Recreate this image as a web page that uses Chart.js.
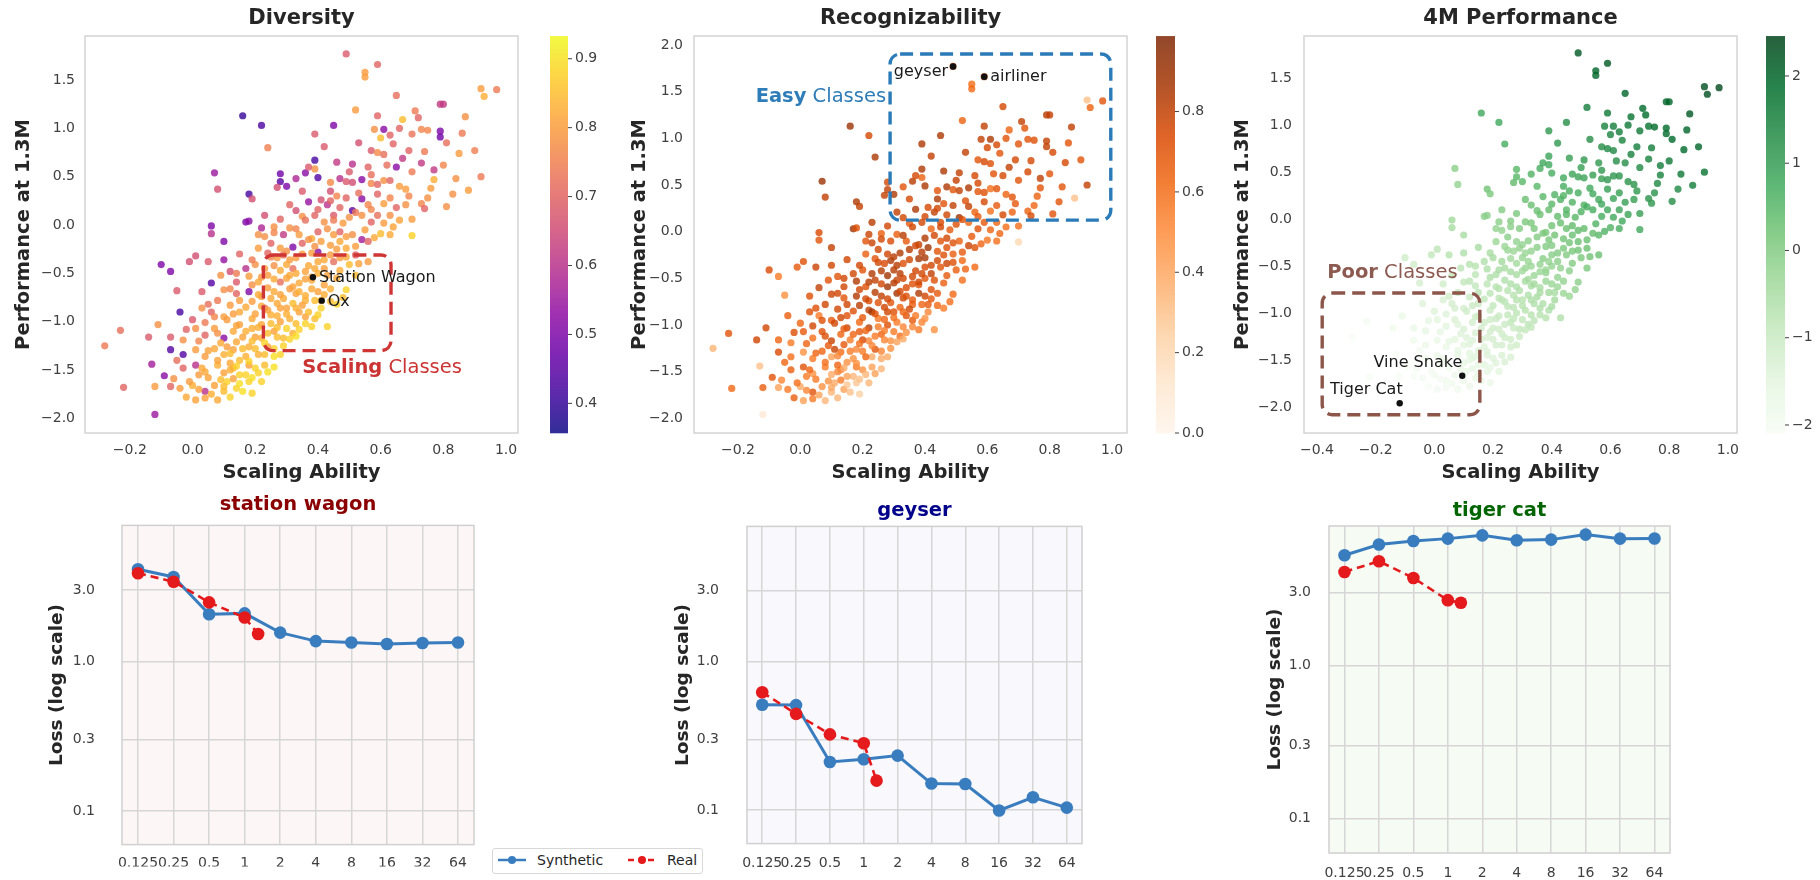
<!DOCTYPE html>
<html>
<head>
<meta charset="utf-8">
<script src="https://cdn.jsdelivr.net/npm/chart.js@4.4.1/dist/chart.umd.min.js"></script>
<style>
  body { margin: 0; background: #fff; width: 1820px; height: 880px; overflow: hidden; position: relative; font-family: "DejaVu Sans", sans-serif; }
  canvas { position: absolute; }
  #legend { position: absolute; left: 492px; top: 848px; width: 209px; height: 24px; border: 1px solid #d8d8d8; border-radius: 3px; background: #fff; font-size: 14px; color: #262626; }
  #legend span { position: absolute; top: 3px; }
  #legend svg { position: absolute; top: 0; left: 0; }
</style>
</head>
<body>
<canvas id="div" width="600" height="490" style="left:0;top:0"></canvas>
<canvas id="rec" width="610" height="490" style="left:600px;top:0"></canvas>
<canvas id="p4m" width="620" height="490" style="left:1200px;top:0"></canvas>
<canvas id="wagon" width="490" height="390" style="left:0;top:490px"></canvas>
<canvas id="geyser" width="500" height="390" style="left:600px;top:490px"></canvas>
<canvas id="tiger" width="620" height="390" style="left:1200px;top:490px"></canvas>
<div id="legend">
  <svg width="209" height="24">
    <line x1="5" y1="11" x2="33" y2="11" stroke="#3a7dbf" stroke-width="2.5"/>
    <circle cx="19" cy="11" r="4" fill="#3a7dbf"/>
    <line x1="135" y1="11" x2="162" y2="11" stroke="#e41a1c" stroke-width="2.5" stroke-dasharray="6,4"/>
    <circle cx="149" cy="11" r="4" fill="#e41a1c"/>
  </svg>
  <span style="left:44px">Synthetic</span>
  <span style="left:174px">Real</span>
</div>
<script>
// one entry per class: scaling ability (x) and performance at 1.3M (y)
const scaleAbility = [
  0.49, 0.59, 0.55, 0.55, 0.65, 0.92, 0.97, 0.93, 0.79, 0.80,
  0.52, 0.16, 0.22, 0.45, 0.59, 0.67, 0.71, 0.87, 0.72, 0.61,
  0.58, 0.66, 0.70, 0.73, 0.75, 0.79, 0.79, 0.39, 0.60, 0.24,
  0.42, 0.57, 0.59, 0.64, 0.69, 0.85, 0.90, 0.61, 0.67, 0.73,
  0.39, 0.51, 0.65, 0.77, 0.92, 0.07, 0.08, 0.28, 0.28, 0.33,
  0.36, 0.39, 0.40, 0.37, 0.44, 0.47, 0.49, 0.51, 0.54, 0.57,
  0.59, 0.61, 0.63, 0.66, 0.68, 0.77, 0.27, 0.30, 0.35, 0.18,
  0.19, 0.83, 0.88, 0.73, 0.31, 0.37, 0.41, 0.43, 0.46, 0.49,
  0.51, 0.54, 0.56, 0.59, 0.61, 0.65, 0.68, 0.74, 0.81, 0.17,
  0.18, 0.22, 0.26, 0.06, 0.06, 0.10, 0.35, 0.39, 0.42, 0.45,
  0.48, 0.50, 0.54, 0.57, 0.59, 0.61, 0.66, 0.60, 0.63, 0.70,
  0.21, 0.23, 0.29, 0.31, 0.34, 0.40, 0.45, 0.47, 0.51, 0.54,
  0.56, 0.32, 0.21, 0.24, 0.28, 0.35, 0.40, 0.44, 0.49, 0.52,
  -0.10, -0.07, -0.01, 0.01, 0.05, 0.10, 0.12, 0.17, 0.20, 0.23,
  0.27, 0.30, 0.33, 0.38, 0.40, 0.45, 0.47, 0.50, 0.56, 0.06,
  0.09, 0.14, 0.18, 0.21, 0.24, 0.28, 0.31, 0.34, 0.38, 0.46,
  0.49, -0.05, 0.03, 0.10, 0.14, 0.18, 0.22, 0.26, 0.29, 0.33,
  0.36, 0.40, 0.44, -0.04, -0.11, -0.23, 0.00, 0.03, 0.06, 0.10,
  0.12, 0.15, 0.19, 0.22, 0.25, 0.28, 0.31, 0.34, 0.39, 0.43,
  0.38, -0.28, -0.14, -0.07, -0.03, 0.01, 0.04, 0.07, 0.10, 0.13,
  0.16, 0.19, 0.22, 0.26, 0.29, 0.32, -0.07, -0.03, 0.01, 0.04,
  0.07, 0.10, 0.13, 0.17, 0.20, 0.23, 0.26, -0.13, -0.09, -0.06,
  -0.03, 0.01, 0.04, 0.08, 0.10, 0.13, 0.17, 0.20, 0.23, -0.22,
  -0.12, -0.07, -0.04, 0.00, 0.04, 0.07, 0.10, 0.14, 0.18, -0.02,
  0.01, 0.04, 0.08, -0.12, 0.11, 0.13, 0.15, 0.19, 0.12, 0.15,
  0.18, 0.21, 0.24, 0.21, 0.24, 0.28, 0.11, 0.14, 0.18, 0.20,
  0.27, 0.30, 0.15, 0.22, 0.25, 0.28, 0.33, 0.36, 0.23, 0.27,
  0.30, 0.32, 0.35, 0.41, 0.19, 0.31, 0.34, 0.38, 0.42, 0.28,
  0.32, 0.36, 0.42, 0.44, 0.29, 0.41, 0.38, 0.47, 0.25, 0.40,
  0.38, 0.41, 0.10,
  0.06, 0.12, 0.16, 0.02, 0.09, 0.05, 0.15, 0.19, 0.22, -0.01, 0.03, 0.12, 0.18, 0.26, 0.08, -0.05, 0.14, 0.02,
  0.05, 0.09, 0.12, 0.16, 0.19, 0.23, 0.26, 0.29, 0.31, 0.17, 0.24, 0.08, 0.02, -0.02, 0.04, 0.14, 0.27, 0.34, 0.21, 0.11, 0.33, 0.36,
  0.07, 0.13, 0.17, 0.20, 0.24, 0.27, 0.30, 0.33, 0.37, 0.40, 0.15, 0.21, 0.25, 0.28, 0.36, 0.39, 0.42, 0.46, 0.08, 0.12, 0.05, 0.32, 0.44, 0.48, 0.24, 0.19,
  0.14, 0.22, 0.26, 0.30, 0.33, 0.36, 0.39, 0.43, 0.47, 0.52, 0.53, 0.26, 0.19, 0.25, 0.31, 0.35, 0.42, 0.49, 0.37, 0.15, 0.30, 0.46, 0.52, 0.39,
  0.26, 0.33, 0.37, 0.43, 0.49, 0.55, 0.58, 0.64, 0.36, 0.45, 0.52, 0.47, 0.40, 0.57, 0.63, 0.70, 0.28, 0.33, 0.23, 0.44, 0.53, 0.63, 0.69, 0.75,
  0.50, 0.56, 0.62, 0.70, 0.74, 0.80, 0.84, 0.46, 0.53, 0.63, 0.81, 0.86, 0.44, 0.57, 0.76
];
const perf13M = [
  1.77, 1.66, 1.58, 1.53, 1.34, 1.41, 1.40, 1.33, 1.25, 1.25,
  1.19, 1.13, 1.03, 1.03, 1.13, 1.09, 1.18, 1.12, 1.11, 0.99,
  0.99, 1.00, 0.94, 0.99, 0.98, 0.97, 0.91, 0.94, 0.90, 0.80,
  0.81, 0.77, 0.75, 0.84, 0.77, 0.74, 0.77, 0.73, 0.69, 0.64,
  0.67, 0.63, 0.60, 0.57, 0.50, 0.54, 0.37, 0.53, 0.45, 0.48,
  0.54, 0.58, 0.49, 0.60, 0.44, 0.48, 0.45, 0.44, 0.47, 0.43,
  0.42, 0.46, 0.46, 0.40, 0.37, 0.47, 0.39, 0.40, 0.35, 0.32,
  0.27, 0.32, 0.36, 0.22, 0.21, 0.24, 0.26, 0.21, 0.30, 0.28,
  0.15, 0.27, 0.21, 0.32, 0.22, 0.18, 0.21, 0.17, 0.19, 0.03,
  0.04, -0.03, -0.02, -0.01, -0.09, -0.17, 0.09, 0.10, 0.03, 0.10,
  0.02, 0.08, 0.10, 0.03, 0.10, 0.02, 0.05, -0.09, -0.10, -0.11,
  -0.10, -0.12, -0.10, -0.03, -0.10, -0.07, -0.10, -0.07, -0.10, -0.15,
  -0.17, -0.23, -0.24, -0.29, -0.24, -0.19, -0.28, -0.21, -0.24, -0.31,
  -0.41, -0.48, -0.38, -0.32, -0.38, -0.36, -0.48, -0.45, -0.41, -0.45,
  -0.34, -0.41, -0.34, -0.29, -0.38, -0.38, -0.34, -0.41, -0.38, -0.60,
  -0.52, -0.59, -0.53, -0.59, -0.52, -0.59, -0.52, -0.60, -0.57, -0.55,
  -0.67, -0.68, -0.69, -0.67, -0.71, -0.69, -0.74, -0.69, -0.76, -0.71,
  -0.78, -0.69, -0.79, -0.90, -1.03, -1.09, -0.98, -0.86, -0.90, -0.95,
  -0.83, -0.90, -0.97, -0.84, -0.93, -0.86, -0.97, -0.90, -0.97, -1.05,
  -1.05, -1.25, -1.16, -1.16, -1.19, -1.07, -1.14, -1.07, -1.17, -1.10,
  -1.16, -1.07, -1.17, -1.10, -1.17, -1.12, -1.29, -1.34, -1.29, -1.36,
  -1.28, -1.34, -1.29, -1.36, -1.28, -1.34, -1.28, -1.44, -1.56, -1.59,
  -1.48, -1.45, -1.52, -1.45, -1.53, -1.48, -1.55, -1.48, -1.45, -1.68,
  -1.67, -1.67, -1.69, -1.66, -1.72, -1.66, -1.72, -1.69, -1.62, -1.78,
  -1.81, -1.79, -1.81, -1.96, -1.62, -1.59, -1.64, -1.74, -1.43, -1.40,
  -1.45, -1.53, -1.52, -1.34, -1.26, -1.34, -1.26, -1.21, -1.26, -1.16,
  -1.16, -1.07, -1.03, -1.03, -1.02, -1.00, -1.02, -0.95, -0.86, -0.81,
  -0.86, -0.81, -0.83, -0.86, -0.79, -0.66, -0.69, -0.66, -0.62, -0.47,
  -0.45, -0.48, -0.45, -0.31, -0.31, -0.17, -0.14, -0.17, -0.19, -0.50,
  -0.54, -0.78, -1.67,
  -1.75, -1.78, -1.72, -1.70, -1.60, -1.58, -1.55, -1.58, -1.62, -1.62, -1.48, -1.50, -1.41, -1.47, -1.40, -1.40, -1.46, -1.55,
  -1.30, -1.22, -1.33, -1.28, -1.20, -1.22, -1.36, -1.25, -1.18, -1.10, -1.12, -1.12, -1.20, -1.08, -1.01, -1.04, -1.06, -1.08, -1.06, -0.98, -1.15, -1.02,
  -0.95, -0.92, -0.85, -0.92, -0.88, -0.94, -0.92, -0.86, -0.90, -0.93, -0.78, -0.72, -0.76, -0.72, -0.73, -0.78, -0.72, -0.82, -0.78, -0.66, -0.82, -0.64, -0.66, -0.75, -0.65, -0.62,
  -0.50, -0.54, -0.56, -0.55, -0.50, -0.56, -0.45, -0.52, -0.47, -0.52, -0.40, -0.42, -0.36, -0.33, -0.36, -0.30, -0.36, -0.33, -0.42, -0.30, -0.27, -0.25, -0.22, -0.22,
  -0.08, -0.04, -0.15, -0.04, -0.12, -0.05, -0.13, -0.02, 0.05, 0.05, 0.13, 0.18, 0.16, 0.16, 0.10, 0.06, 0.06, 0.15, 0.10, 0.25, 0.33, 0.28, 0.30, 0.28,
  0.55, 0.60, 0.62, 0.55, 0.76, 0.62, 0.48, 0.65, 0.85, 0.93, 0.85, 0.95, 0.35, 0.52, 0.38
];
// colour values for the three top panels
const diversity = [
  0.68, 0.70, 0.80, 0.80, 0.72, 0.80, 0.74, 0.83, 0.62, 0.62,
  0.80, 0.40, 0.43, 0.50, 0.70, 0.85, 0.74, 0.78, 0.70, 0.52,
  0.78, 0.70, 0.73, 0.76, 0.76, 0.50, 0.48, 0.68, 0.85, 0.75,
  0.68, 0.68, 0.77, 0.70, 0.70, 0.80, 0.75, 0.72, 0.62, 0.62,
  0.42, 0.60, 0.52, 0.62, 0.74, 0.55, 0.66, 0.48, 0.45, 0.58,
  0.52, 0.78, 0.44, 0.68, 0.77, 0.60, 0.68, 0.66, 0.52, 0.76,
  0.70, 0.78, 0.70, 0.80, 0.80, 0.83, 0.66, 0.50, 0.68, 0.42,
  0.66, 0.78, 0.80, 0.76, 0.70, 0.54, 0.66, 0.60, 0.76, 0.70,
  0.45, 0.52, 0.76, 0.70, 0.80, 0.70, 0.78, 0.70, 0.78, 0.50,
  0.52, 0.58, 0.78, 0.50, 0.60, 0.50, 0.78, 0.70, 0.78, 0.68,
  0.80, 0.78, 0.78, 0.70, 0.72, 0.80, 0.81, 0.85, 0.82, 0.88,
  0.78, 0.78, 0.62, 0.78, 0.80, 0.70, 0.80, 0.70, 0.78, 0.56,
  0.70, 0.50, 0.80, 0.70, 0.80, 0.70, 0.52, 0.80, 0.82, 0.70,
  0.50, 0.50, 0.66, 0.66, 0.68, 0.54, 0.66, 0.60, 0.78, 0.80,
  0.80, 0.82, 0.80, 0.80, 0.82, 0.72, 0.80, 0.85, 0.80, 0.44,
  0.78, 0.68, 0.80, 0.82, 0.80, 0.72, 0.82, 0.82, 0.82, 0.82,
  0.88, 0.68, 0.68, 0.78, 0.70, 0.50, 0.80, 0.82, 0.82, 0.81,
  0.83, 0.81, 0.85, 0.42, 0.78, 0.72, 0.68, 0.78, 0.70, 0.80,
  0.80, 0.82, 0.82, 0.82, 0.83, 0.81, 0.83, 0.81, 0.85, 0.88,
  0.88, 0.74, 0.68, 0.68, 0.78, 0.78, 0.70, 0.80, 0.52, 0.82,
  0.81, 0.83, 0.83, 0.81, 0.85, 0.83, 0.44, 0.44, 0.80, 0.80,
  0.82, 0.83, 0.81, 0.83, 0.85, 0.85, 0.88, 0.56, 0.52, 0.78,
  0.70, 0.60, 0.82, 0.83, 0.81, 0.85, 0.88, 0.88, 0.85, 0.70,
  0.80, 0.70, 0.80, 0.83, 0.60, 0.81, 0.85, 0.88, 0.88, 0.82,
  0.81, 0.81, 0.82, 0.55, 0.88, 0.81, 0.90, 0.88, 0.82, 0.85,
  0.81, 0.88, 0.90, 0.83, 0.81, 0.88, 0.80, 0.82, 0.83, 0.81,
  0.85, 0.88, 0.81, 0.82, 0.85, 0.81, 0.85, 0.81, 0.72, 0.82,
  0.81, 0.85, 0.81, 0.88, 0.80, 0.80, 0.83, 0.82, 0.81, 0.82,
  0.72, 0.81, 0.80, 0.80, 0.72, 0.80, 0.82, 0.82, 0.70, 0.83,
  0.80, 0.82, 0.85,
  0.83, 0.88, 0.90, 0.81, 0.85, 0.81, 0.88, 0.90, 0.88, 0.80, 0.82, 0.83, 0.88, 0.90, 0.81, 0.72, 0.88, 0.80,
  0.81, 0.82, 0.85, 0.85, 0.85, 0.88, 0.90, 0.88, 0.88, 0.83, 0.85, 0.78, 0.76, 0.70, 0.74, 0.81, 0.85, 0.88, 0.83, 0.80, 0.90, 0.88,
  0.76, 0.80, 0.82, 0.81, 0.81, 0.83, 0.83, 0.83, 0.85, 0.88, 0.80, 0.82, 0.82, 0.81, 0.83, 0.85, 0.83, 0.88, 0.74, 0.76, 0.72, 0.81, 0.83, 0.85, 0.80, 0.78,
  0.74, 0.80, 0.82, 0.81, 0.82, 0.81, 0.82, 0.81, 0.83, 0.85, 0.81, 0.78, 0.74, 0.76, 0.80, 0.80, 0.82, 0.82, 0.82, 0.70, 0.78, 0.80, 0.80, 0.78,
  0.76, 0.76, 0.78, 0.78, 0.80, 0.80, 0.82, 0.81, 0.72, 0.74, 0.74, 0.70, 0.70, 0.76, 0.78, 0.80, 0.70, 0.66, 0.66, 0.70, 0.72, 0.76, 0.76, 0.78,
  0.68, 0.70, 0.72, 0.74, 0.74, 0.76, 0.78, 0.62, 0.66, 0.70, 0.72, 0.74, 0.66, 0.72, 0.80
];
const recognizability = [
  0.85, 0.80, 0.60, 0.62, 0.75, 0.30, 0.70, 0.65, 0.82, 0.80,
  0.65, 0.90, 0.75, 0.85, 0.80, 0.65, 0.80, 0.80, 0.70, 0.85,
  0.80, 0.70, 0.70, 0.70, 0.72, 0.80, 0.80, 0.85, 0.75, 0.85,
  0.80, 0.70, 0.75, 0.70, 0.75, 0.75, 0.70, 0.72, 0.80, 0.75,
  0.85, 0.80, 0.75, 0.80, 0.80, 0.90, 0.80, 0.75, 0.80, 0.70,
  0.82, 0.65, 0.85, 0.75, 0.70, 0.85, 0.70, 0.80, 0.85, 0.70,
  0.72, 0.60, 0.70, 0.65, 0.70, 0.70, 0.80, 0.85, 0.75, 0.85,
  0.80, 0.70, 0.30, 0.65, 0.80, 0.85, 0.75, 0.80, 0.70, 0.80,
  0.90, 0.80, 0.65, 0.75, 0.60, 0.75, 0.65, 0.75, 0.70, 0.90,
  0.72, 0.78, 0.66, 0.74, 0.70, 0.80, 0.68, 0.76, 0.64, 0.74,
  0.68, 0.72, 0.64, 0.72, 0.68, 0.64, 0.60, 0.58, 0.60, 0.20,
  0.70, 0.78, 0.74, 0.66, 0.68, 0.84, 0.70, 0.76, 0.66, 0.78,
  0.72, 0.84, 0.66, 0.70, 0.76, 0.82, 0.86, 0.70, 0.66, 0.62,
  0.74, 0.56, 0.68, 0.72, 0.78, 0.76, 0.70, 0.76, 0.70, 0.84,
  0.74, 0.82, 0.72, 0.86, 0.74, 0.70, 0.78, 0.66, 0.62, 0.80,
  0.70, 0.76, 0.84, 0.72, 0.80, 0.88, 0.78, 0.74, 0.70, 0.66,
  0.62, 0.48, 0.72, 0.78, 0.70, 0.84, 0.74, 0.80, 0.70, 0.76,
  0.66, 0.76, 0.62, 0.66, 0.76, 0.70, 0.64, 0.72, 0.56, 0.68,
  0.76, 0.70, 0.62, 0.80, 0.58, 0.76, 0.56, 0.70, 0.52, 0.48,
  0.56, 0.35, 0.76, 0.64, 0.56, 0.68, 0.60, 0.72, 0.78, 0.64,
  0.56, 0.68, 0.52, 0.64, 0.48, 0.60, 0.74, 0.60, 0.48, 0.56,
  0.64, 0.42, 0.60, 0.48, 0.56, 0.38, 0.52, 0.30, 0.70, 0.52,
  0.66, 0.70, 0.48, 0.56, 0.38, 0.52, 0.34, 0.48, 0.42, 0.62,
  0.66, 0.42, 0.56, 0.38, 0.70, 0.48, 0.34, 0.42, 0.28, 0.66,
  0.42, 0.56, 0.34, 0.10, 0.38, 0.56, 0.28, 0.24, 0.64, 0.48,
  0.56, 0.34, 0.42, 0.64, 0.70, 0.38, 0.78, 0.68, 0.52, 0.74,
  0.52, 0.56, 0.76, 0.82, 0.56, 0.72, 0.52, 0.68, 0.88, 0.76,
  0.72, 0.64, 0.76, 0.52, 0.82, 0.88, 0.72, 0.84, 0.72, 0.88,
  0.82, 0.76, 0.80, 0.76, 0.84, 0.88, 0.80, 0.72, 0.76, 0.70,
  0.76, 0.68, 0.40,
  0.42, 0.34, 0.30, 0.52, 0.48, 0.56, 0.42, 0.30, 0.34, 0.60, 0.64, 0.52, 0.48, 0.34, 0.60, 0.64, 0.38, 0.56,
  0.64, 0.68, 0.52, 0.56, 0.60, 0.52, 0.38, 0.48, 0.42, 0.64, 0.56, 0.72, 0.64, 0.72, 0.76, 0.68, 0.56, 0.48, 0.64, 0.76, 0.38, 0.52,
  0.72, 0.76, 0.72, 0.68, 0.72, 0.64, 0.60, 0.64, 0.56, 0.48, 0.76, 0.76, 0.72, 0.76, 0.68, 0.64, 0.68, 0.56, 0.76, 0.76, 0.72, 0.76, 0.68, 0.60, 0.82, 0.76,
  0.76, 0.82, 0.76, 0.82, 0.76, 0.72, 0.76, 0.72, 0.68, 0.60, 0.64, 0.82, 0.76, 0.76, 0.82, 0.76, 0.76, 0.72, 0.76, 0.76, 0.82, 0.72, 0.68, 0.82,
  0.76, 0.82, 0.76, 0.76, 0.72, 0.68, 0.64, 0.64, 0.76, 0.76, 0.72, 0.76, 0.76, 0.68, 0.64, 0.60, 0.76, 0.76, 0.82, 0.76, 0.72, 0.68, 0.68, 0.64,
  0.80, 0.75, 0.70, 0.70, 0.75, 0.70, 0.70, 0.85, 0.80, 0.75, 0.75, 0.70, 0.85, 0.75, 0.65
];
const perf4M = [
  2.2, 2.2, 2.0, 2.0, 2.0, 2.3, 2.4, 2.3, 2.0, 2.0,
  1.6, 0.8, 0.8, 1.3, 1.7, 1.8, 1.9, 2.2, 1.9, 1.6,
  1.5, 1.7, 1.7, 1.8, 1.9, 1.9, 1.9, 1.1, 1.5, 0.7,
  1.1, 1.3, 1.4, 1.5, 1.6, 1.9, 2.0, 1.4, 1.5, 1.5,
  0.9, 1.1, 1.3, 1.6, 1.8, -0.1, -0.2, 0.5, 0.5, 0.6,
  0.7, 0.8, 0.7, 0.8, 0.8, 0.9, 0.9, 0.9, 1.0, 1.0,
  1.1, 1.1, 1.2, 1.2, 1.2, 1.5, 0.4, 0.5, 0.5, 0.2,
  0.1, 1.4, 1.6, 1.2, 0.3, 0.5, 0.6, 0.6, 0.7, 0.7,
  0.6, 0.8, 0.8, 1.0, 0.9, 1.0, 1.0, 1.1, 1.3, -0.1,
  -0.1, -0.1, 0.0, -0.4, -0.5, -0.5, 0.3, 0.4, 0.4, 0.5,
  0.5, 0.6, 0.7, 0.7, 0.8, 0.8, 0.9, 0.6, 0.7, 0.8,
  -0.2, -0.2, 0.0, 0.1, 0.1, 0.2, 0.3, 0.4, 0.4, 0.4,
  0.5, -0.1, -0.3, -0.3, -0.2, 0.0, 0.0, 0.2, 0.3, 0.3,
  -1.1, -1.1, -0.9, -0.8, -0.7, -0.6, -0.7, -0.6, -0.5, -0.4,
  -0.3, -0.3, -0.2, 0.0, -0.1, 0.0, 0.1, 0.1, 0.3, -0.9,
  -0.8, -0.8, -0.6, -0.6, -0.5, -0.5, -0.3, -0.3, -0.2, -0.1,
  -0.1, -1.2, -1.1, -0.9, -0.9, -0.8, -0.7, -0.6, -0.6, -0.5,
  -0.5, -0.3, -0.3, -1.4, -1.7, -2.0, -1.4, -1.3, -1.2, -1.2,
  -1.0, -1.0, -1.0, -0.8, -0.8, -0.7, -0.7, -0.6, -0.6, -0.6,
  -0.7, -2.1, -1.9, -1.7, -1.6, -1.5, -1.5, -1.3, -1.3, -1.2,
  -1.2, -1.1, -1.1, -0.9, -0.9, -0.8, -1.9, -1.8, -1.7, -1.7,
  -1.5, -1.5, -1.4, -1.4, -1.2, -1.2, -1.1, -2.1, -2.1, -2.0,
  -1.9, -1.8, -1.8, -1.6, -1.6, -1.5, -1.5, -1.4, -1.3, -2.1,
  -2.1, -2.1, -2.0, -1.9, -1.9, -1.8, -1.8, -1.7, -1.6, -2.1,
  -2.0, -2.0, -1.9, -2.1, -1.7, -1.6, -1.6, -1.7, -1.5, -1.4,
  -1.4, -1.4, -1.3, -1.2, -1.1, -1.1, -1.4, -1.3, -1.3, -1.1,
  -1.0, -0.9, -1.1, -1.0, -0.9, -0.8, -0.7, -0.6, -0.8, -0.7,
  -0.7, -0.6, -0.5, -0.4, -0.8, -0.5, -0.4, -0.3, -0.2, -0.4,
  -0.3, -0.2, -0.1, 0.1, -0.2, 0.2, 0.1, 0.3, -0.1, -0.2,
  -0.3, -0.5, -1.8,
  -1.9, -1.8, -1.7, -2.0, -1.8, -1.9, -1.6, -1.6, -1.5, -2.0, -1.8, -1.6, -1.4, -1.3, -1.6, -2.0, -1.5, -1.9,
  -1.6, -1.4, -1.4, -1.3, -1.2, -1.1, -1.2, -1.0, -0.9, -1.1, -1.0, -1.4, -1.6, -1.6, -1.4, -1.1, -0.9, -0.8, -1.0, -1.1, -0.9, -0.7,
  -1.2, -1.0, -0.9, -0.9, -0.8, -0.8, -0.7, -0.6, -0.6, -0.5, -0.8, -0.7, -0.7, -0.6, -0.5, -0.4, -0.3, -0.3, -1.0, -0.8, -1.1, -0.4, -0.2, -0.2, -0.6, -0.6,
  -0.7, -0.5, -0.5, -0.4, -0.3, -0.3, -0.2, -0.2, 0.0, 0.1, 0.2, -0.4, -0.5, -0.3, -0.3, -0.1, 0.0, 0.2, -0.1, -0.5, -0.2, 0.2, 0.3, 0.1,
  -0.1, 0.1, 0.1, 0.3, 0.4, 0.6, 0.6, 0.8, 0.3, 0.5, 0.7, 0.6, 0.5, 0.8, 0.9, 1.0, 0.1, 0.3, 0.0, 0.6, 0.8, 1.0, 1.1, 1.2,
  1.0, 1.1, 1.3, 1.4, 1.6, 1.7, 1.7, 1.0, 1.3, 1.6, 1.9, 2.0, 0.7, 1.1, 1.4
];

// annotated classes
const namedClasses = ['Station Wagon', 'Ox', 'geyser', 'airliner', 'Vine Snake', 'Tiger Cat'];
const namedX = [0.384, 0.412, 0.49, 0.59, 0.095, -0.118];
const namedY = [-0.541, -0.783, 1.77, 1.66, -1.667, -1.961];

// tick labels
const xTicksA = [-0.2, 0, 0.2, 0.4, 0.6, 0.8, 1.0];
const xTicksB = [-0.4, -0.2, 0, 0.2, 0.4, 0.6, 0.8, 1.0];
const yTicksA = [-2, -1.5, -1, -0.5, 0, 0.5, 1, 1.5];
const yTicksB = [-2, -1.5, -1, -0.5, 0, 0.5, 1, 1.5, 2];
const divTicks = [0.4, 0.5, 0.6, 0.7, 0.8, 0.9];
const recTicks = [0, 0.2, 0.4, 0.6, 0.8];
const p4Ticks = [-2, -1, 0, 1, 2];
const sizeTicks = [0.125, 0.25, 0.5, 1, 2, 4, 8, 16, 32, 64];
const lossTicks = [0.1, 0.3, 1, 3];

// loss curves (dataset size in millions, loss on log scale)
const realSizes = [0.125, 0.25, 0.5, 1, 1.3];
const wagonSynth = [4.15, 3.68, 2.07, 2.10, 1.56, 1.37, 1.34, 1.31, 1.33, 1.34];
const wagonReal = [3.90, 3.42, 2.49, 1.97, 1.53];
const geyserSynth = [0.513, 0.51, 0.211, 0.220, 0.233, 0.151, 0.150, 0.0995, 0.122, 0.104];
const geyserReal = [0.622, 0.445, 0.324, 0.282, 0.158];
const tigerSynth = [5.25, 6.17, 6.50, 6.74, 7.08, 6.57, 6.64, 7.16, 6.74, 6.76];
const tigerReal = [4.08, 4.80, 3.73, 2.67, 2.57];

[diversity, recognizability, perf4M, perf13M].forEach(a => {
  if (a.length !== scaleAbility.length) throw new Error('length mismatch ' + a.length + ' vs ' + scaleAbility.length);
});

Chart.defaults.font.family = '"DejaVu Sans", sans-serif';
Chart.defaults.color = '#404040';
Chart.defaults.animation = false;

const CMAPS = {
  plasma: ['#0d0887', '#41049d', '#6a00a8', '#8f0da4', '#b12a90', '#cc4778', '#e16462', '#f2844b', '#fca636', '#fcce25', '#f0f921'],
  oranges: ['#fff5eb', '#fee6ce', '#fdd0a2', '#fdae6b', '#fd8d3c', '#f16913', '#d94801', '#a63603', '#7f2704'],
  greens: ['#f7fcf5', '#e5f5e0', '#c7e9c0', '#a1d99b', '#74c476', '#41ab5d', '#238b45', '#006d2c', '#00441b']
};
const ALPHA = 0.8;
function hexRgb(h) { return [1, 3, 5].map(i => parseInt(h.slice(i, i + 2), 16)); }
function cmapColor(name, t) {
  const s = CMAPS[name];
  t = Math.max(0, Math.min(1, t));
  const p = t * (s.length - 1);
  const i = Math.min(Math.floor(p), s.length - 2);
  const f = p - i;
  const a = hexRgb(s[i]), b = hexRgb(s[i + 1]);
  const c = a.map((v, k) => Math.round(v + (b[k] - v) * f));
  return `rgba(${c[0]},${c[1]},${c[2]},${ALPHA})`;
}

const fmt1 = v => (v < 0 ? '\u2212' : '') + Math.abs(v).toFixed(1);
const fmt0 = v => (v < 0 ? '\u2212' : '') + Math.abs(v).toFixed(0);

function drawRich(ctx, parts, x, y, align, size, color) {
  ctx.textBaseline = 'middle';
  ctx.textAlign = 'left';
  ctx.fillStyle = color;
  const fonts = parts.map(p => (p.bold ? 'bold ' : '') + size + 'px "DejaVu Sans"');
  const widths = parts.map((p, i) => { ctx.font = fonts[i]; return ctx.measureText(p.t).width; });
  const total = widths.reduce((a, b) => a + b, 0);
  let cx = align === 'right' ? x - total : x;
  parts.forEach((p, i) => { ctx.font = fonts[i]; ctx.fillText(p.t, cx, y); cx += widths[i]; });
}

function deco(cfg) {
  return {
    id: 'deco',
    beforeDraw(chart) {
      if (!cfg.bg) return;
      const a = chart.chartArea, ctx = chart.ctx;
      ctx.save();
      ctx.fillStyle = cfg.bg;
      ctx.fillRect(a.left, a.top, a.right - a.left, a.bottom - a.top);
      ctx.restore();
    },
    afterDraw(chart) {
      const ctx = chart.ctx, a = chart.chartArea, xs = chart.scales.x, ys = chart.scales.y;
      ctx.save();
      ctx.strokeStyle = cfg.frame;
      ctx.lineWidth = 1.5;
      ctx.strokeRect(a.left, a.top, a.right - a.left, a.bottom - a.top);

      ctx.font = `bold ${cfg.titleSize}px "DejaVu Sans"`;
      ctx.fillStyle = cfg.titleColor || '#262626';
      ctx.textAlign = 'center';
      ctx.textBaseline = 'middle';
      ctx.fillText(cfg.title, (a.left + a.right) / 2, cfg.titleY);

      (cfg.boxes || []).forEach(b => {
        const x0 = xs.getPixelForValue(b.x0), x1 = xs.getPixelForValue(b.x1);
        const y0 = ys.getPixelForValue(b.y0), y1 = ys.getPixelForValue(b.y1);
        ctx.beginPath();
        ctx.setLineDash([13, 7]);
        ctx.lineWidth = 3.4;
        ctx.strokeStyle = b.color;
        ctx.roundRect(Math.min(x0, x1), Math.min(y0, y1), Math.abs(x1 - x0), Math.abs(y1 - y0), 10);
        ctx.stroke();
        ctx.setLineDash([]);
      });

      (cfg.groups || []).forEach(g => {
        drawRich(ctx, g.parts, xs.getPixelForValue(g.x) + (g.dx || 0), ys.getPixelForValue(g.y), g.align, 19.5, g.color);
      });

      (cfg.names || []).forEach(n => {
        drawRich(ctx, [{ t: namedClasses[n.i] }], xs.getPixelForValue(namedX[n.i]) + n.dx,
          ys.getPixelForValue(namedY[n.i]) + n.dy, n.align, 16, '#1a1a1a');
      });

      if (cfg.cbar) {
        const c = cfg.cbar, top = a.top, bot = a.bottom, h = bot - top;
        for (let i = 0; i < h; i++) {
          ctx.fillStyle = cmapColor(c.cmap, 1 - (i + 0.5) / h);
          ctx.fillRect(c.x, top + i, c.w, 1.3);
        }
        ctx.fillStyle = '#404040';
        ctx.strokeStyle = '#404040';
        ctx.lineWidth = 1;
        ctx.font = '14px "DejaVu Sans"';
        ctx.textAlign = 'left';
        ctx.textBaseline = 'middle';
        c.ticks.forEach(v => {
          const y = bot - (v - c.min) / (c.max - c.min) * h;
          ctx.beginPath();
          ctx.moveTo(c.x + c.w, y);
          ctx.lineTo(c.x + c.w + 4, y);
          ctx.stroke();
          ctx.fillText(c.fmt(v), c.x + c.w + 7, y);
        });
      }
      ctx.restore();
    }
  };
}

function scatterPanel(p) {
  const cb = p.deco.cbar;
  const colors = p.values.map(v => cmapColor(cb.cmap, (v - cb.min) / (cb.max - cb.min)));
  const pts = scaleAbility.map((x, i) => ({ x: x, y: perf13M[i] }));
  const named = p.named.map(i => ({ x: namedX[i], y: namedY[i] }));
  new Chart(document.getElementById(p.id), {
    type: 'scatter',
    data: {
      datasets: [
        { data: named, backgroundColor: '#111111', pointRadius: 3.2, borderWidth: 0, order: 0 },
        { data: pts, backgroundColor: colors, pointRadius: 3.6, borderWidth: 0, order: 1 }
      ]
    },
    options: {
      responsive: false,
      events: [],
      layout: { padding: { left: 0, top: 36, right: p.padRight, bottom: 0 } },
      plugins: { legend: { display: false }, tooltip: { enabled: false } },
      scales: {
        x: {
          type: 'linear', min: p.xmin, max: p.xmax, bounds: 'data',
          afterBuildTicks: s => { s.ticks = p.xTicks.map(v => ({ value: v })); },
          afterFit: s => { s.height = 57; },
          grid: { display: false, drawTicks: false }, border: { display: false },
          ticks: { autoSkip: false, maxRotation: 0, padding: 8.6, font: { size: 14 }, callback: v => fmt1(v) },
          title: { display: true, text: 'Scaling Ability', color: '#262626', font: { size: 19.5, weight: 'bold' }, padding: { top: 0, bottom: 5.3 } }
        },
        y: {
          type: 'linear', min: p.ymin, max: p.ymax, bounds: 'data',
          afterBuildTicks: s => { s.ticks = p.yTicks.map(v => ({ value: v })); },
          afterFit: s => { s.width = p.yWidth; },
          grid: { display: false, drawTicks: false }, border: { display: false },
          ticks: { autoSkip: false, padding: p.yPad, font: { size: 14 }, callback: v => fmt1(v) },
          title: { display: true, text: 'Performance at 1.3M', color: '#262626', font: { size: 19.5, weight: 'bold' }, padding: { top: p.yTitlePad, bottom: 0 } }
        }
      }
    },
    plugins: [deco(p.deco)]
  });
}

scatterPanel({
  id: 'div', values: diversity, named: [0, 1], padRight: 82, yWidth: 85, yPad: 10, yTitlePad: 12.3,
  xmin: -0.343, xmax: 1.038, ymin: -2.152, ymax: 1.955, xTicks: xTicksA, yTicks: yTicksA,
  deco: {
    title: 'Diversity', titleY: 19, titleSize: 21, frame: '#d4d4d4',
    cbar: { cmap: 'plasma', x: 550, w: 18, min: 0.357, max: 0.933, ticks: divTicks, fmt: v => v.toFixed(1) },
    boxes: [{ x0: 0.226, x1: 0.633, y0: -0.31, y1: -1.30, color: '#d03535' }],
    groups: [{ parts: [{ t: 'Scaling', bold: true }, { t: ' Classes' }], x: 0.350, y: -1.476, align: 'left', color: '#cc3434' }],
    names: [{ i: 0, align: 'left', dx: 6, dy: 1 }, { i: 1, align: 'left', dx: 6, dy: 1 }]
  }
});
scatterPanel({
  id: 'rec', values: recognizability, named: [2, 3], padRight: 83, yWidth: 94, yPad: 11, yTitlePad: 28.3,
  xmin: -0.341, xmax: 1.048, ymin: -2.157, ymax: 2.096, xTicks: xTicksA, yTicks: yTicksB,
  deco: {
    title: 'Recognizability', titleY: 19, titleSize: 21, frame: '#d4d4d4',
    cbar: { cmap: 'oranges', x: 556, w: 19, min: 0, max: 0.988, ticks: recTicks, fmt: v => v.toFixed(1) },
    boxes: [{ x0: 0.288, x1: 0.996, y0: 0.123, y1: 1.903, color: '#2b7bb9' }],
    groups: [{ parts: [{ t: 'Easy', bold: true }, { t: ' Classes' }], x: 0.288, y: 1.442, dx: -4, align: 'right', color: '#2f7db8' }],
    names: [{ i: 2, align: 'right', dx: -5, dy: 5 }, { i: 3, align: 'left', dx: 6, dy: 0 }]
  }
});
scatterPanel({
  id: 'p4m', values: perf4M, named: [4, 5], padRight: 83, yWidth: 104, yPad: 12, yTitlePad: 31.3,
  xmin: -0.444, xmax: 1.031, ymin: -2.277, ymax: 1.950, xTicks: xTicksB, yTicks: yTicksA,
  deco: {
    title: '4M Performance', titleY: 19, titleSize: 21, frame: '#d4d4d4',
    cbar: { cmap: 'greens', x: 566, w: 19, min: -2.092, max: 2.458, ticks: p4Ticks, fmt: fmt0 },
    boxes: [{ x0: -0.382, x1: 0.155, y0: -0.787, y1: -2.082, color: '#8c564b' }],
    groups: [{ parts: [{ t: 'Poor', bold: true }, { t: ' Classes' }], x: -0.365, y: -0.574, align: 'left', color: '#8c5a50' }],
    names: [{ i: 4, align: 'right', dx: 0, dy: -13 }, { i: 5, align: 'right', dx: 3, dy: -13 }]
  }
});

function lossPanel(p) {
  new Chart(document.getElementById(p.id), {
    type: 'line',
    data: {
      datasets: [
        {
          label: 'Synthetic', data: sizeTicks.map((x, i) => ({ x: x, y: p.synth[i] })),
          borderColor: '#3a7dbf', backgroundColor: '#3a7dbf', borderWidth: 3,
          pointRadius: 6.3, pointBorderWidth: 0, order: 1
        },
        {
          label: 'Real', data: realSizes.map((x, i) => ({ x: x, y: p.real[i] })),
          borderColor: '#e41a1c', backgroundColor: '#e41a1c', borderWidth: 2.6, borderDash: [8, 5],
          pointRadius: 6.3, pointBorderWidth: 0, order: 0
        }
      ]
    },
    options: {
      responsive: false,
      events: [],
      layout: { padding: { left: 0, top: p.top, right: p.padRight, bottom: 0 } },
      plugins: { legend: { display: false }, tooltip: { enabled: false } },
      scales: {
        x: {
          type: 'logarithmic', min: 0.0915, max: 87.4, bounds: 'data',
          afterBuildTicks: s => { s.ticks = sizeTicks.map(v => ({ value: v })); },
          afterFit: s => { s.height = p.xHeight; },
          grid: { color: '#d6d6d6', lineWidth: 1.5, drawTicks: false }, border: { display: false },
          ticks: { autoSkip: false, maxRotation: 0, minRotation: 0, padding: p.xPad, font: { size: 14 }, callback: v => String(v) }
        },
        y: {
          type: 'logarithmic', min: 0.0595, max: 8.15, bounds: 'data',
          afterBuildTicks: s => { s.ticks = lossTicks.map(v => ({ value: v })); },
          afterFit: s => { s.width = p.yWidth; },
          grid: { color: '#d6d6d6', lineWidth: 1.5, drawTicks: false }, border: { display: false },
          ticks: { autoSkip: false, padding: p.yPad, font: { size: 14 }, callback: v => Number(v).toFixed(1) },
          title: { display: true, text: 'Loss (log scale)', color: '#262626', font: { size: 18.5, weight: 'bold' }, padding: { top: p.yTitlePad, bottom: 0 } }
        }
      }
    },
    plugins: [deco({ title: p.title, titleColor: p.titleColor, titleY: p.titleY, titleSize: 19.5, frame: '#d0d0d0', bg: p.bg })]
  });
}

lossPanel({
  id: 'wagon', synth: wagonSynth, real: wagonReal, title: 'station wagon', titleColor: '#8b0000', titleY: 15,
  bg: '#fcf7f6', top: 31, padRight: 16, yWidth: 122, xHeight: 22, xPad: 10, yPad: 27, yTitlePad: 45.9
});
lossPanel({
  id: 'geyser', synth: geyserSynth, real: geyserReal, title: 'geyser', titleColor: '#00008b', titleY: 21,
  bg: '#f8f8fd', top: 35, padRight: 18, yWidth: 147, xHeight: 32, xPad: 11.5, yPad: 28, yTitlePad: 71.9
});
lossPanel({
  id: 'tiger', synth: tigerSynth, real: tigerReal, title: 'tiger cat', titleColor: '#006400', titleY: 21,
  bg: '#f6fbf4', top: 36, padRight: 150, yWidth: 129, xHeight: 27, xPad: 12, yPad: 18, yTitlePad: 63.9
});
</script>
</body>
</html>
